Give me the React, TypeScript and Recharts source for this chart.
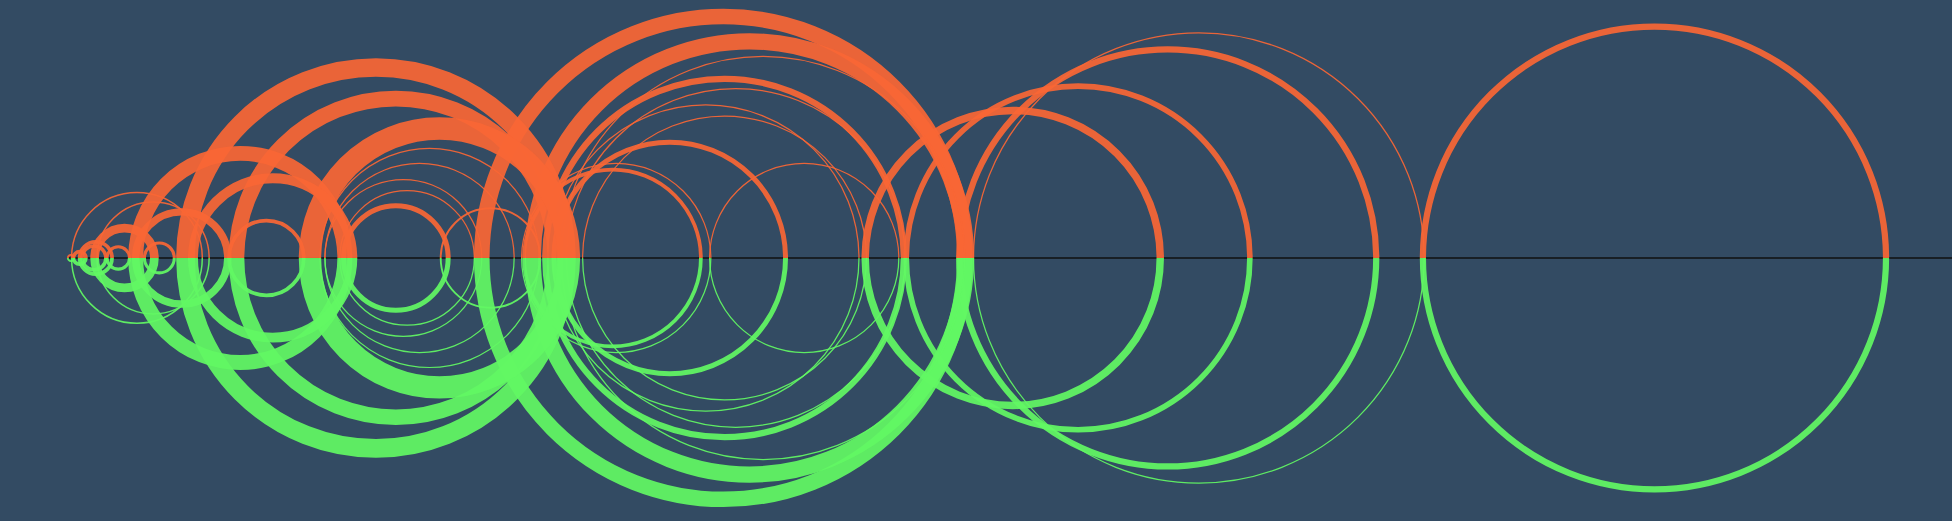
import React from "react";
import { ComposedChart, Scatter, XAxis, YAxis, ReferenceLine } from "recharts";

// circle centres on the line, radii and ring thickness (all in axis units)
const centers = [
  1329, 963, 938, 866, 813.5, 581, 602, 582, 613, 591, 567, 582, 538, 492, 495, 646,
  302, 318, 353, 345, 337, 324, 327, 318, 394, 193, 219, 214, 146, 123, 110, 100,
  128, 95, 77, 75.5, 64, 57,
];
const radii = [
  186, 181, 167.5, 138, 118.5, 194, 174, 144, 162, 136, 123, 114, 93, 71, 76, 76,
  153, 128, 104, 88, 76, 63, 54, 42, 40, 84, 64, 30, 37, 45, 52.5, 24,
  12, 9, 13, 9.6, 5, 2.5,
];
const widths = [
  5, 1, 5, 4.5, 6, 12.5, 13, 5, 1, 1, 1, 1, 4, 3, 1, 1,
  15, 12.5, 18, 1, 1, 1, 1, 4, 1.5, 12, 8, 3, 6, 1.2, 1.2, 7,
  2.5, 2.5, 3, 3, 3, 1.5,
];

const lineStart = 54;
const lineEnd = 1568;

const rings = centers.map((x, i) => ({ x, y: 0, r: radii[i], w: widths[i] }));

const TOP = "#f96635";
const BOTTOM = "#62f863";

function Ring(props: any) {
  const { cx, cy, payload } = props;
  const k = cx / payload.x; // pixels per axis unit
  const R = payload.r * k;
  const sw = payload.w * k;
  const top = `M${cx - R},${cy} A${R},${R} 0 0 1 ${cx + R},${cy}`;
  const bottom = `M${cx - R},${cy} A${R},${R} 0 0 0 ${cx + R},${cy}`;
  return (
    <g>
      <path d={top} fill="none" stroke={TOP} strokeWidth={sw} strokeOpacity={0.93} />
      <path d={bottom} fill="none" stroke={BOTTOM} strokeWidth={sw} strokeOpacity={0.93} />
    </g>
  );
}

export default function App() {
  return (
    <div style={{ position: "fixed", inset: 0, background: "#334b63" }}>
      <div style={{ position: "absolute", left: 0, top: 0 }}>
        <ComposedChart width={1952} height={521} margin={{ top: 0, right: 0, bottom: 0, left: 0 }}>
          <XAxis type="number" dataKey="x" domain={[0, 1568]} hide allowDataOverflow />
          <YAxis type="number" dataKey="y" domain={[-211.3, 207.2]} hide allowDataOverflow />
          <ReferenceLine
            segment={[{ x: lineStart, y: 0 }, { x: lineEnd, y: 0 }]}
            stroke="#111"
            strokeWidth={1.5}
          />
          <Scatter data={rings} shape={<Ring />} isAnimationActive={false} />
        </ComposedChart>
      </div>
    </div>
  );
}
